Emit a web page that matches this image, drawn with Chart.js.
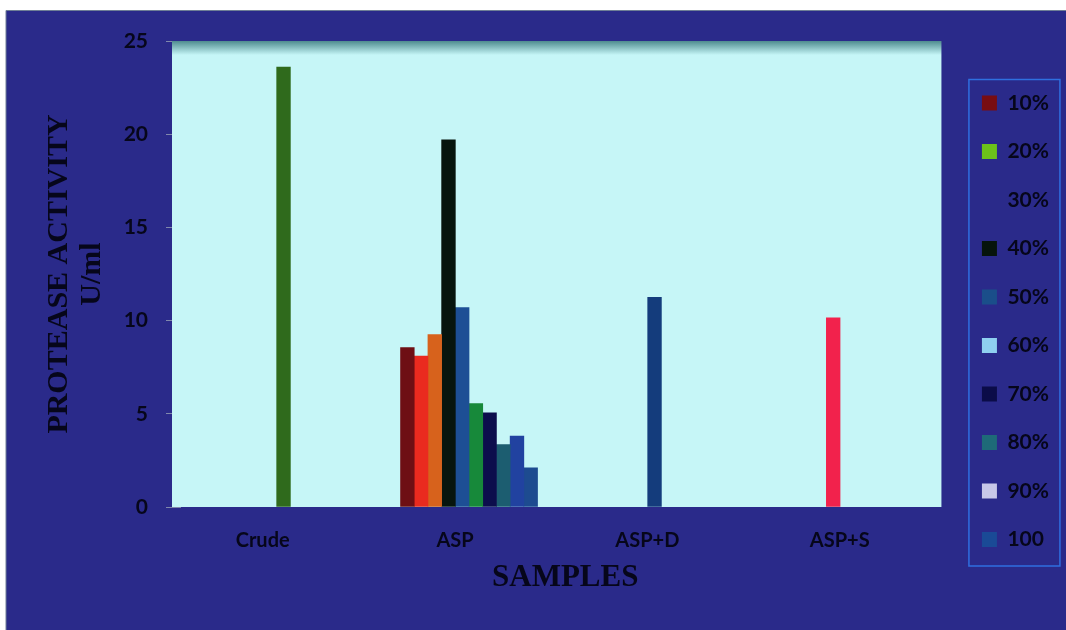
<!DOCTYPE html>
<html>
<head>
<meta charset="utf-8">
<script src="https://cdn.jsdelivr.net/npm/chart.js@4"></script>
<style>
  html, body { margin: 0; padding: 0; background: #ffffff; }
  canvas { display: block; }
</style>
</head>
<body>
<canvas id="chart" width="1066" height="630"></canvas>
<script>
// ── data ────────────────────────────────────────────────
const categories   = ['Crude', 'ASP', 'ASP+D', 'ASP+S'];
const seriesLabels = ['10%', '20%', '30%', '40%', '50%', '60%', '70%', '80%', '90%', '100'];

// one value per series inside each sample group (null = no bar)
const crudeValues = [null, null, null, null, null, 23.6, null, null, null, null];
const aspValues   = [8.55, 8.1, 9.25, 19.7, 10.7, 5.55, 5.05, 3.35, 3.8, 2.1];
const aspDValues  = [null, null, null, null, 11.25, null, null, null, null, null];
const aspSValues  = [null, null, null, 10.15, null, null, null, null, null, null];

const yTicks = [0, 5, 10, 15, 20, 25];

// ── colours ─────────────────────────────────────────────
const aspColors = ['#6e0f14', '#ea2a1f', '#d7621c', '#07150e', '#1d4f95',
                   '#17893a', '#0c0e4c', '#1c5d70', '#2142a0', '#1d4b90'];
const crudeColor = '#2f6a1c';
const aspDColor  = '#143c7c';
const aspSColor  = '#f2224c';
const legendColors = ['#780d12', '#6cc21a', 'rgba(0,0,0,0)', '#06140c', '#1a4e8a',
                      '#8fd0f0', '#0b0c48', '#1e6a78', '#c8c8e8', '#1a4a96'];

const bgNavy   = '#2a2a8a';
const textDark = '#06061a';

const datasets = seriesLabels.map((label, i) => ({
    label,
    data: [crudeValues[i], aspValues[i], aspDValues[i], aspSValues[i]],
    backgroundColor: [crudeColor, aspColors[i], aspDColor, aspSColor],
    borderWidth: 0,
    barThickness: 13.7
}));

// page backdrop: white margin and navy figure
const backdrop = {
    id: 'backdrop',
    beforeDraw(chart) {
        const ctx = chart.ctx;
        ctx.save();
        ctx.fillStyle = '#ffffff';
        ctx.fillRect(0, 0, chart.width, chart.height);
        ctx.fillStyle = bgNavy;
        ctx.fillRect(6, 10, chart.width - 6, chart.height - 10);
        ctx.strokeStyle = '#6f7f96';
        ctx.lineWidth = 1;
        ctx.beginPath();
        ctx.moveTo(6, chart.height);
        ctx.lineTo(6, 10.5);
        ctx.lineTo(chart.width, 10.5);
        ctx.stroke();
        ctx.restore();
    },
    // cyan plot panel (sits a little left of the bar scale, as in the original)
    beforeDatasetsDraw(chart) {
        const { ctx, chartArea: a } = chart;
        const shift = 8.5;
        ctx.save();
        const g = ctx.createLinearGradient(0, a.top, 0, a.top + 14);
        g.addColorStop(0, '#4f8c8f');
        g.addColorStop(1, '#c6f6f7');
        ctx.fillStyle = g;
        ctx.fillRect(a.left - shift, a.top, a.right - a.left, a.bottom - a.top);
        ctx.restore();
    }
};

// thin blue frame round the legend
const legendFrame = {
    id: 'legendFrame',
    afterDraw(chart) {
        const boxes = chart.legend.legendHitBoxes;
        if (!boxes || !boxes.length) return;
        const first = boxes[0], last = boxes[boxes.length - 1];
        const ctx = chart.ctx;
        ctx.save();
        ctx.strokeStyle = '#2f6fe0';
        ctx.lineWidth = 1.5;
        const x = first.left - 13, y = first.top - 13;
        ctx.strokeRect(x, y, 91, last.top + last.height + 16 - y);
        ctx.restore();
    }
};

Chart.defaults.font.family = "Lato, 'Open Sans', sans-serif";

new Chart(document.getElementById('chart'), {
    type: 'bar',
    data: { labels: categories, datasets },
    options: {
        responsive: false,
        animation: false,
        layout: { padding: { top: 41, bottom: 28.5, left: 8, right: 7 } },
        scales: {
            x: {
                grid: { display: false },
                border: { display: false },
                ticks: { color: textDark, font: { size: 20, weight: 'bold' }, padding: 14, labelOffset: -14 },
                title: {
                    display: true,
                    text: 'SAMPLES',
                    color: textDark,
                    font: { family: "'Liberation Serif', 'Times New Roman', serif", size: 31, weight: 'bold' },
                    padding: { top: 0, bottom: 5 }
                },
                afterFit: s => { s.height = 94.5; }
            },
            y: {
                min: 0,
                max: 25,
                afterBuildTicks: s => { s.ticks = yTicks.map(v => ({ value: v })); },
                grid: { drawOnChartArea: false, drawTicks: true, tickLength: 14.5, color: '#8088ac' },
                border: { display: false },
                ticks: { color: textDark, font: { size: 21, weight: 'bold' }, padding: 18 },
                title: {
                    display: true,
                    text: ['PROTEASE ACTIVITY', 'U/ml'],
                    color: textDark,
                    font: { family: "'Liberation Serif', 'Times New Roman', serif", size: 30, weight: 'bold', lineHeight: 1.1 },
                    padding: { top: 34.5, bottom: 0 }
                },
                afterFit: s => { s.width = 172.5; }
            },
            gap: {
                type: 'linear',
                position: 'right',
                grid: { display: false },
                border: { display: false },
                ticks: { display: false },
                afterFit: s => { s.width = 4.5; }
            }
        },
        plugins: {
            legend: {
                position: 'right',
                labels: {
                    color: textDark,
                    font: { size: 21, weight: 'bold' },
                    boxWidth: 15,
                    boxHeight: 15,
                    padding: 27.5,
                    generateLabels: () => seriesLabels.map((text, i) => ({
                        text,
                        fillStyle: legendColors[i],
                        strokeStyle: legendColors[i],
                        lineWidth: 0,
                        fontColor: textDark,
                        hidden: false,
                        datasetIndex: i
                    }))
                }
            },
            tooltip: { enabled: false }
        }
    },
    plugins: [backdrop, legendFrame]
});
</script>
</body>
</html>
